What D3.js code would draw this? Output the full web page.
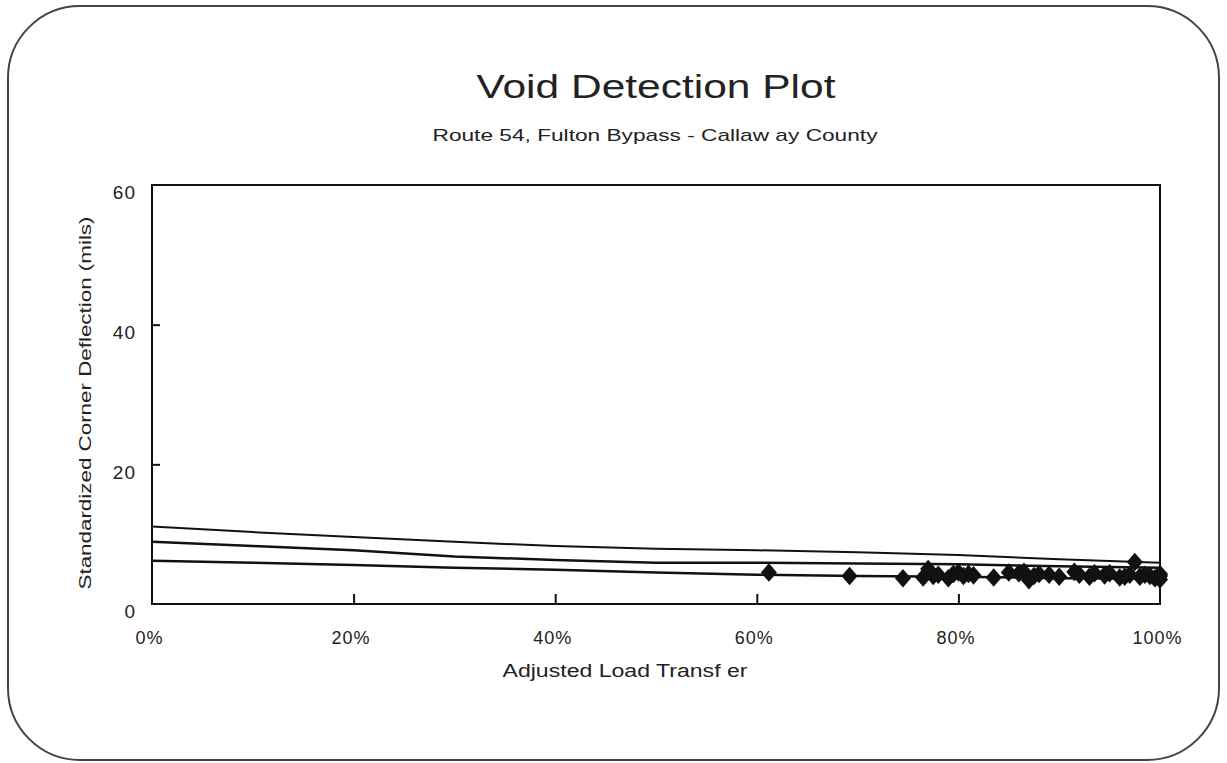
<!DOCTYPE html>
<html>
<head>
<meta charset="utf-8">
<script src="https://cdn.jsdelivr.net/npm/d3@7"></script>
<style>
	body { margin: 0; background: #fff; }
	svg text { font-family: "Liberation Sans", Arial, sans-serif; fill: #222; }
</style>
</head>
<body>
<svg id="chart" width="1227" height="763"></svg>
<script>
// x values are load transfer (0..1), y values are deflection in mils
const curveX = [0, 0.1, 0.2, 0.3, 0.4, 0.5, 0.6, 0.7, 0.8, 0.9, 1.0];
const upperLimit = [11.1, 10.3, 9.6, 8.9, 8.3, 7.9, 7.7, 7.4, 7.0, 6.4, 5.9];
const middleLine = [8.9, 8.3, 7.7, 6.8, 6.3, 5.9, 5.9, 5.8, 5.7, 5.4, 5.2];
const lowerLimit = [6.2, 5.9, 5.6, 5.2, 4.9, 4.5, 4.2, 4.0, 3.9, 3.7, 3.6];

const pointX = [0.612, 0.692, 0.745, 0.765, 0.77, 0.775, 0.78, 0.79, 0.795, 0.80, 0.805, 0.81, 0.815,
	0.835, 0.85, 0.86, 0.865, 0.87, 0.875, 0.88, 0.89, 0.90, 0.915, 0.92, 0.93, 0.935, 0.945,
	0.95, 0.96, 0.965, 0.97, 0.975, 0.98, 0.985, 0.99, 0.995, 1.0, 1.0, 1.0];
const pointY = [4.5, 4.0, 3.7, 3.8, 5.0, 4.0, 4.2, 3.7, 4.3, 4.5, 4.0, 4.3, 4.1,
	3.8, 4.5, 4.4, 4.6, 3.4, 4.0, 4.3, 4.2, 3.9, 4.6, 4.2, 3.9, 4.4, 4.1,
	4.4, 3.8, 3.9, 4.2, 6.0, 3.9, 4.2, 4.0, 3.7, 4.3, 3.5, 4.0];

const yTicks = [0, 20, 40, 60];
const xTicks = [0, 0.2, 0.4, 0.6, 0.8, 1.0];

const margin = { left: 152, top: 185, right: 1160, bottom: 604 };
const svg = d3.select("#chart");

// 圆角外框
svg.append("rect")
	.attr("x", 8).attr("y", 6)
	.attr("width", 1211).attr("height", 754)
	.attr("rx", 72).attr("ry", 72)
	.attr("fill", "none")
	.attr("stroke", "#444")
	.attr("stroke-width", 2);

svg.append("text")
	.attr("x", 656).attr("y", 98)
	.attr("text-anchor", "middle")
	.attr("font-size", 33)
	.attr("textLength", 359)
	.attr("lengthAdjust", "spacingAndGlyphs")
	.text("Void Detection Plot");

svg.append("text")
	.attr("x", 655).attr("y", 141)
	.attr("text-anchor", "middle")
	.attr("font-size", 17)
	.attr("textLength", 445)
	.attr("lengthAdjust", "spacingAndGlyphs")
	.text("Route 54, Fulton Bypass - Callaw ay County");

const x = d3.scaleLinear().domain([0, 1]).range([margin.left, margin.right]);
const y = d3.scaleLinear().domain([0, 60]).range([margin.bottom, margin.top]);

// plot box
svg.append("rect")
	.attr("x", margin.left).attr("y", margin.top)
	.attr("width", margin.right - margin.left)
	.attr("height", margin.bottom - margin.top)
	.attr("fill", "none")
	.attr("stroke", "#111")
	.attr("stroke-width", 2);

const xAxis = svg.append("g")
	.attr("transform", `translate(0,${margin.bottom})`)
	.call(d3.axisBottom(x).tickValues(xTicks).tickSize(-10).tickPadding(27)
		.tickFormat(d3.format(".0%")));
xAxis.select(".domain").remove();
xAxis.selectAll(".tick line").attr("stroke", "#111").attr("stroke-width", 2)
	.filter(d => d === 0 || d === 1).remove();
xAxis.selectAll(".tick text")
	.attr("font-size", 18).attr("fill", "#222").attr("letter-spacing", 1)
	.attr("dx", -3)
	.style("font-family", "'Liberation Sans', Arial, sans-serif");

const yAxis = svg.append("g")
	.attr("transform", `translate(${margin.left},0)`)
	.call(d3.axisLeft(y).tickValues(yTicks).tickSize(-8).tickPadding(16));
yAxis.select(".domain").remove();
yAxis.selectAll(".tick line").attr("stroke", "#111").attr("stroke-width", 2)
	.filter(d => d === 0 || d === 60).remove();
yAxis.selectAll(".tick text")
	.attr("font-size", 19).attr("fill", "#222").attr("letter-spacing", 1)
	.attr("dy", "0.72em")
	.style("font-family", "'Liberation Sans', Arial, sans-serif");

svg.append("text")
	.attr("x", 625).attr("y", 677)
	.attr("text-anchor", "middle")
	.attr("font-size", 17.5)
	.attr("textLength", 245)
	.attr("lengthAdjust", "spacingAndGlyphs")
	.text("Adjusted Load Transf er");

svg.append("text")
	.attr("transform", "translate(91,403) rotate(-90)")
	.attr("text-anchor", "middle")
	.attr("font-size", 17)
	.attr("textLength", 373)
	.attr("lengthAdjust", "spacingAndGlyphs")
	.text("Standardized Corner Deflection (mils)");

const line = d3.line().x(d => x(d[0])).y(d => y(d[1]));
[upperLimit, middleLine, lowerLimit].forEach((series, i) => {
	svg.append("path")
		.datum(curveX.map((v, j) => [v, series[j]]))
		.attr("d", line)
		.attr("fill", "none")
		.attr("stroke", "#111")
		.attr("stroke-width", i === 0 ? 2 : 2.5);
});

const diamond = d3.symbol().type(d3.symbolSquare).size(130);
svg.append("g").selectAll("path")
	.data(pointX.map((v, i) => [v, pointY[i]]))
	.join("path")
	.attr("transform", d => `translate(${x(d[0])},${y(d[1])}) scale(1,1.15) rotate(45)`)
	.attr("d", diamond)
	.attr("fill", "#111");
</script>
</body>
</html>
